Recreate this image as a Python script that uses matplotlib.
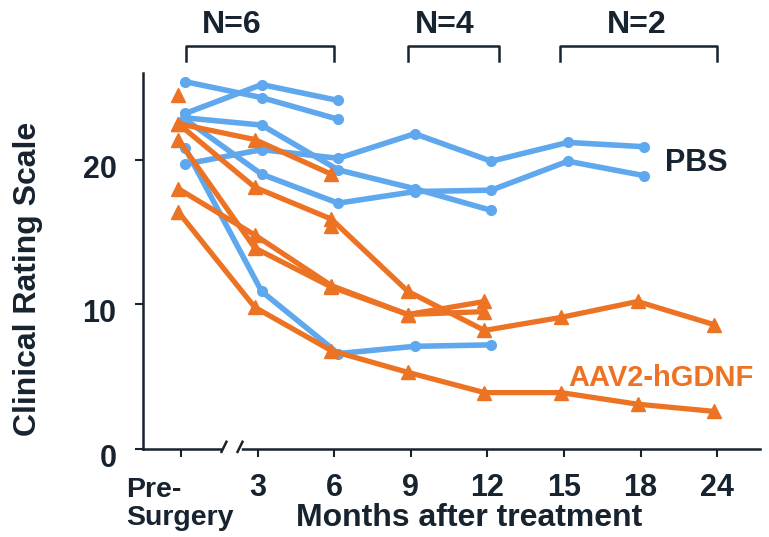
import numpy as np
import matplotlib
matplotlib.use("Agg")
import matplotlib.pyplot as plt
from matplotlib.transforms import ScaledTranslation

plt.rcParams['font.family'] = ['Liberation Sans', 'DejaVu Sans']
plt.rcParams['font.weight'] = 'bold'

nan = np.nan
timepoints = ["Pre-\nSurgery", "3", "6", "9", "12", "15", "18", "24"]

# PBS group, one list per subject (months: pre, 3, 6, 9, 12, 15, 18)
pbs_1 = [25.4, 24.3, 22.8]
pbs_2 = [23.2, 25.2, 24.1]
pbs_3 = [22.9, 22.4, 19.3, 18.0, 16.5]
pbs_4 = [19.7, 20.7, 20.1, 21.8, 19.9, 21.2, 20.9]
pbs_5 = [20.8, 10.9, 6.6, 7.1, 7.2]
pbs_6 = [22.8, 19.0, 17.0, 17.8, 17.9, 19.9, 18.9]

# AAV2-hGDNF group (months: pre, 3, 6, 9, 12, 15, 18, 24)
aav_1 = [22.5, 21.4, 19.0]
aav_2 = [22.5, 18.1, 15.9, 10.9, 8.2, 9.1, 10.2, 8.6]
aav_3 = [21.4, 13.9, 11.2, 9.3, 10.2]
aav_4 = [18.0, 14.8, 11.3, 9.3, 9.5]
aav_5 = [16.4, 9.8, 6.8, 5.3, 3.9, 3.9, 3.1, 2.6]
aav_6 = [24.5, nan, 15.4]

pbs = [pbs_1, pbs_2, pbs_3, pbs_4, pbs_5, pbs_6]
aav = [aav_1, aav_2, aav_3, aav_4, aav_5, aav_6]

# label, bracket start, bracket end, label centre
groups_n = [("N=6", 0.06, 2.0, 0.66), ("N=4", 2.96, 4.15, 3.44), ("N=2", 4.95, 7.0, 5.95)]

blue = "#5fa8ee"
orange = "#ec7324"
dark = "#17232f"

fig = plt.figure(figsize=(7.69, 5.37), dpi=100)
ax = fig.add_axes([143/769, 1-449/537, (760-143)/769, (449-73)/537])

for s in pbs:
    x = np.arange(len(s)) + 0.05
    ax.plot(x, s, color=blue, lw=4, marker='o', ms=7, zorder=2)
for s in aav:
    x = np.arange(len(s)) - 0.04
    ax.plot(x, s, color=orange, lw=3.8, marker='^', ms=10, zorder=3)

ax.set_xlim(-0.5, 7.56)
ax.set_ylim(0, 26)
ax.set_yticks([0, 10, 20])
ax.set_xticks(range(len(timepoints)))
ax.set_xticklabels(timepoints, fontsize=22, fontweight='bold', color=dark, linespacing=1.1)
ax.tick_params(axis='x', length=6, width=1.5, color=dark, pad=11)
ax.tick_params(axis='y', length=6, width=1.5, color=dark, pad=13, labelsize=22, labelcolor=dark)
for lab in ax.get_yticklabels():
    lab.set_fontweight('bold')
    lab.set_transform(lab.get_transform() + ScaledTranslation(0, -4.5/72, fig.dpi_scale_trans))
pre = ax.get_xticklabels()[0]
pre.set_multialignment('left')
pre.set_fontsize(20.5)
pre.set_transform(pre.get_transform() + ScaledTranslation(-1/100, -4/100, fig.dpi_scale_trans))

for side in ['top', 'right']:
    ax.spines[side].set_visible(False)
for side in ['left', 'bottom']:
    ax.spines[side].set_color(dark)
    ax.spines[side].set_linewidth(1.8)

ax.set_ylabel("Clinical Rating Scale", fontsize=23, fontweight='bold', color=dark)
ax.yaxis.set_label_coords(-0.162, 0.452)
fig.text(469/769, 1-518/537, "Months after treatment", fontsize=23, fontweight='bold',
         color=dark, ha='center', va='center')

# axis break
ax.plot([0.575, 0.76], [0, 0], color='white', lw=4, clip_on=False, zorder=5)
for bx in [0.525, 0.735]:
    ax.plot([bx, bx + 0.065], [-0.2, 0.5], color=dark, lw=1.8, clip_on=False, zorder=6)

# N brackets
for label, x0, x1, xt in groups_n:
    ax.plot([x0, x0, x1, x1], [26.8, 27.9, 27.9, 26.8], color=dark, lw=1.8, clip_on=False)
    ax.text(xt, 29.3, label, fontsize=23, fontweight='bold', color=dark,
            ha='center', va='center', clip_on=False)

ax.text(6.32, 19.8, "PBS", fontsize=22, fontweight='bold', color=dark, va='center')
ax.text(5.05, 4.9, "AAV2-hGDNF", fontsize=21, fontweight='bold', color=orange, va='center')

fig.savefig("out.png", dpi=100)
